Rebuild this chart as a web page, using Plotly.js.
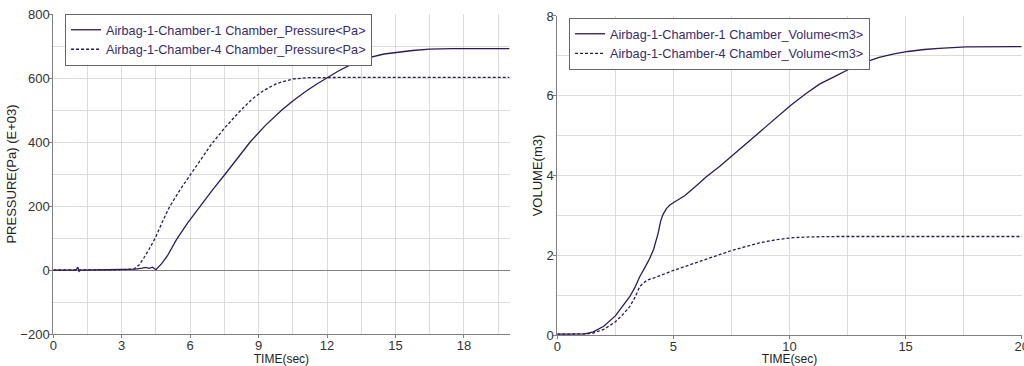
<!DOCTYPE html>
<html>
<head>
<meta charset="utf-8">
<script src="https://cdn.plot.ly/plotly-3.0.1.min.js"></script>
<style>html,body{margin:0;padding:0;background:#fff;}#chart{width:1024px;height:366px;}</style>
</head>
<body>
<div id="chart"></div>
<script>
// ---- Data ----
var pressureName1 = "Airbag-1-Chamber-1 Chamber_Pressure&lt;Pa&gt;";
var pressureName4 = "Airbag-1-Chamber-4 Chamber_Pressure&lt;Pa&gt;";
var volumeName1 = "Airbag-1-Chamber-1 Chamber_Volume&lt;m3&gt;";
var volumeName4 = "Airbag-1-Chamber-4 Chamber_Volume&lt;m3&gt;";

var p1Time = [0, 1.0, 1.08, 1.13, 1.2, 2.5, 3.2, 3.6, 3.9, 4.05, 4.2, 4.35, 4.5, 4.75, 5.0, 5.4, 5.9, 6.44, 7.0, 7.54, 8.1, 8.63, 9.3, 10.02, 10.5, 11.0, 11.5, 12.0, 12.5, 13.0, 13.75, 14.5, 15.1, 15.75, 16.5, 17.5, 20];
var p1Value = [0, 0, 9, -4, 0, 1, 2, 3, 6, 8, 5, 9, 1, 20, 44, 95, 148, 200, 252, 300, 352, 400, 452, 500, 528, 555, 579, 600, 622, 640, 662, 675, 681, 686, 690, 692, 692];

var p4Time = [0, 2.5, 2.8, 3.1, 3.4, 3.55, 3.75, 3.95, 4.2, 4.47, 4.8, 5.1, 5.55, 6.0, 6.45, 6.9, 7.5, 8.19, 8.7, 9.2, 9.8, 10.5, 11.2, 12.0, 13.0, 20];
var p4Value = [0, 0, 2, 1, 3, 4, 15, 35, 65, 100, 153, 198, 250, 298, 345, 390, 443, 497, 533, 560, 583, 597, 601, 602, 602, 602];

var v1Time = [0, 0.8, 1.2, 1.55, 2.0, 2.5, 2.8, 3.12, 3.35, 3.55, 3.8, 3.98, 4.15, 4.34, 4.45, 4.55, 4.7, 4.85, 5.03, 5.5, 6.0, 6.42, 7.0, 7.54, 8.0, 8.57, 9.3, 10.07, 10.7, 11.29, 12.0, 12.58, 13.2, 13.86, 14.5, 15.1, 15.8, 16.44, 17.6, 18.5, 20];
var v1Value = [0.02, 0.02, 0.03, 0.08, 0.22, 0.48, 0.7, 0.96, 1.2, 1.46, 1.72, 1.92, 2.15, 2.54, 2.85, 3.02, 3.17, 3.26, 3.33, 3.5, 3.75, 3.97, 4.23, 4.5, 4.73, 5.0, 5.38, 5.77, 6.05, 6.29, 6.5, 6.67, 6.83, 6.96, 7.05, 7.11, 7.16, 7.19, 7.225, 7.23, 7.23];

var v4Time = [0, 1.0, 1.3, 1.55, 2.0, 2.5, 2.8, 3.12, 3.35, 3.55, 3.7, 3.87, 4.2, 5.03, 6.27, 7.54, 8.2, 8.7, 9.43, 10.14, 10.86, 12, 20];
var v4Value = [0.02, 0.02, 0.03, 0.05, 0.14, 0.33, 0.5, 0.71, 0.95, 1.21, 1.3, 1.375, 1.44, 1.625, 1.875, 2.125, 2.23, 2.31, 2.39, 2.44, 2.46, 2.47, 2.47];

// ---- Tick settings ----
var pressureTimeTicks = [0, 3, 6, 9, 12, 15, 18];
var pressureTimeMinor = [1.5, 4.5, 7.5, 10.5, 13.5, 16.5, 19.5, 20];
var pressureTicks = [-200, 0, 200, 400, 600, 800];
var volumeTimeTicks = [0, 5, 10, 15, 20];
var volumeTicks = [0, 2, 4, 6, 8];

// ---- Styles ----
var lineColor = "#2c1a5a";
var textPurple = "#3a2a6a";
var gridColor = "#dcdcdc";
var axisColor = "#808080";
var fontFamily = "Liberation Sans, Arial, sans-serif";

var traces = [
  {x: p1Time, y: p1Value, name: pressureName1, type: "scatter", mode: "lines",
   line: {color: lineColor, width: 1.3}, xaxis: "x", yaxis: "y", legend: "legend"},
  {x: p4Time, y: p4Value, name: pressureName4, type: "scatter", mode: "lines",
   line: {color: lineColor, width: 1.3, dash: "3px,2px"}, xaxis: "x", yaxis: "y", legend: "legend"},
  {x: v1Time, y: v1Value, name: volumeName1, type: "scatter", mode: "lines",
   line: {color: lineColor, width: 1.3}, xaxis: "x2", yaxis: "y2", legend: "legend2"},
  {x: v4Time, y: v4Value, name: volumeName4, type: "scatter", mode: "lines",
   line: {color: lineColor, width: 1.3, dash: "3px,2px"}, xaxis: "x2", yaxis: "y2", legend: "legend2"}
];

function axisBase() {
  return {
    showline: true, linecolor: axisColor, linewidth: 1,
    ticks: "outside", ticklen: 3, tickcolor: axisColor,
    showgrid: true, gridcolor: gridColor, gridwidth: 1,
    zeroline: false,
    ticklabeloverflow: "allow",
    tickfont: {family: fontFamily, size: 13, color: "#333"},
    fixedrange: true
  };
}

var xa = Object.assign(axisBase(), {
  domain: [0.052, 0.4976], range: [0, 20], tickmode: "array", tickvals: pressureTimeTicks,
  ticklabelstandoff: -4,
  minor: {tickmode: "array", tickvals: pressureTimeMinor, showgrid: true, gridcolor: gridColor, ticks: ""},
  title: {text: "TIME(sec)", font: {family: fontFamily, size: 12, color: "#222"}, standoff: 6},
  anchor: "y"
});
var ya = Object.assign(axisBase(), {
  domain: [0.003, 1], range: [-200, 800], tickmode: "array", tickvals: pressureTicks,
  ticklabelstandoff: -3,
  minor: {dtick: 100, showgrid: true, gridcolor: gridColor, ticks: ""},
  zeroline: true, zerolinecolor: axisColor, zerolinewidth: 1,
  title: {text: "PRESSURE(Pa) (E+03)", font: {family: fontFamily, size: 13, color: "#222"}, standoff: 0},
  anchor: "x"
});
var xa2 = Object.assign(axisBase(), {
  domain: [0.5442, 0.9978], range: [0, 20], tickmode: "array", tickvals: volumeTimeTicks,
  ticklabelstandoff: -4,
  minor: {dtick: 2.5, showgrid: true, gridcolor: gridColor, ticks: ""},
  title: {text: "TIME(sec)", font: {family: fontFamily, size: 12, color: "#222"}, standoff: 6},
  anchor: "y2"
});
var ya2 = Object.assign(axisBase(), {
  domain: [0, 0.9938], range: [0, 8], tickmode: "array", tickvals: volumeTicks,
  ticklabelstandoff: -3,
  minor: {dtick: 1, showgrid: true, gridcolor: gridColor, ticks: ""},
  title: {text: "VOLUME(m3)", font: {family: fontFamily, size: 13, color: "#222"}, standoff: 0},
  anchor: "x2"
});

var legendStyle = {
  xanchor: "left", yanchor: "top",
  bgcolor: "#ffffff", bordercolor: "#666666", borderwidth: 1,
  font: {family: fontFamily, size: 12.7, color: textPurple},
  tracegroupgap: 0
};

var layout = {
  width: 1024, height: 366,
  margin: {l: 0, r: 0, t: 14, b: 31, pad: 0},
  paper_bgcolor: "#ffffff", plot_bgcolor: "#ffffff",
  showlegend: true,
  xaxis: xa, yaxis: ya, xaxis2: xa2, yaxis2: ya2,
  legend: Object.assign({x: 0.0635, y: 1.0}, legendStyle),
  legend2: Object.assign({x: 0.5557, y: 0.9875}, legendStyle),
  font: {family: fontFamily}
};

Plotly.newPlot("chart", traces, layout, {staticPlot: true, displayModeBar: false});
</script>
</body>
</html>
